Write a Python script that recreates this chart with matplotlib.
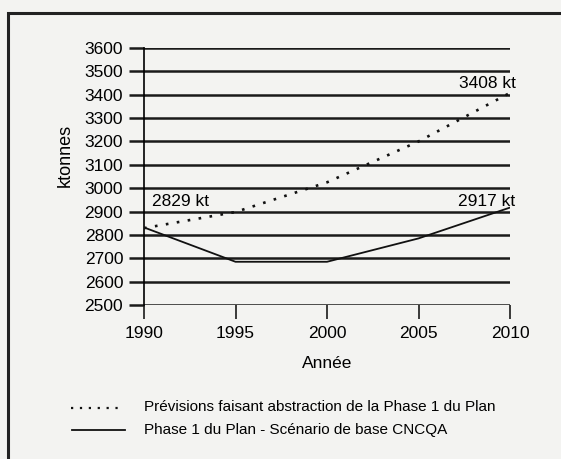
import numpy as np
import matplotlib.pyplot as plt
from matplotlib.patches import Rectangle

plt.rcParams['font.family'] = ['Liberation Sans', 'DejaVu Sans']

# data
years = [1990, 1995, 2000, 2005, 2010]
previsions = [2829, 2898, 3025, 3200, 3408]
phase1 = [2832, 2685, 2685, 2785, 2917]
yticks = list(range(2500, 3700, 100))

W, H = 561, 459
fig = plt.figure(figsize=(W / 100, H / 100), dpi=100)
bg = '#f3f3f1'
fig.patch.set_facecolor(bg)

# outer frame (right and bottom edges fall outside the picture)
fig.patches.append(Rectangle((8 / W, -0.05), 1.0, 1.05 - 13 / H,
                             transform=fig.transFigure, fill=False,
                             edgecolor='#222222', linewidth=2.2))

left, right = 144 / W, 510 / W
top, bottom = 1 - 48 / H, 1 - 305 / H
ax = fig.add_axes([left, bottom, right - left, top - bottom])
ax.set_facecolor(bg)

for y in yticks:
    ax.axhline(y, color='#1a1a1a', linewidth=1.8, zorder=1)

ax.plot(years, previsions, linestyle=(0, (1, 3.2)), color='#111111', linewidth=1.9, zorder=3)
ax.plot(years, phase1, linestyle='-', color='#111111', linewidth=1.3, zorder=3)

ax.set_xlim(1990, 2010)
ax.set_ylim(2500, 3600)
ax.set_xticks(years)
ax.set_yticks(yticks)
ax.tick_params(axis='y', length=11, width=1.8, color='#1a1a1a', pad=4, labelsize=12.5)
ax.tick_params(axis='x', length=10, width=1.2, color='#1a1a1a', pad=5, labelsize=12.5)
for s in ['top', 'right']:
    ax.spines[s].set_visible(False)
ax.spines['left'].set_linewidth(1.2)
ax.spines['bottom'].set_visible(False)

ax.text(1990.45, 2912, '2829 kt', fontsize=12.5, ha='left', va='bottom')
ax.text(2010.3, 2912, '2917 kt', fontsize=12.5, ha='right', va='bottom')
ax.text(2010.3, 3418, '3408 kt', fontsize=12.5, ha='right', va='bottom')

fig.text(327 / W, 1 - 363 / H, 'Année', fontsize=12.5, ha='center', va='center')
fig.text(65 / W, 1 - 155 / H, 'ktonnes', rotation=90, fontsize=13, ha='center', va='center')

# legend
fig.add_artist(plt.Line2D([71 / W, 122 / W], [1 - 408 / H] * 2, transform=fig.transFigure,
                          linestyle=(0, (1, 3)), color='#111111', linewidth=1.6))
fig.add_artist(plt.Line2D([72 / W, 125 / W], [1 - 430 / H] * 2, transform=fig.transFigure,
                          linestyle='-', color='#111111', linewidth=1.3))
fig.text(144 / W, 1 - 407 / H, 'Prévisions faisant abstraction de la Phase 1 du Plan',
         fontsize=11, va='center', ha='left')
fig.text(144 / W, 1 - 430 / H, 'Phase 1 du Plan - Scénario de base CNCQA',
         fontsize=11, va='center', ha='left')

fig.savefig('out.png', dpi=100, facecolor=bg)
